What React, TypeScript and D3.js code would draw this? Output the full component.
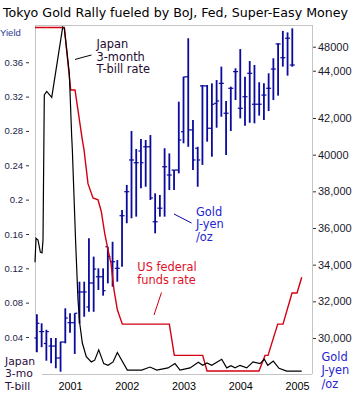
import React, { useRef, useEffect } from 'react';
import * as d3 from 'd3';

// monthly gold bars, yen per ounce (Jun 2000 - Dec 2004)
const goldMonths = [
  '2000-06', '2000-07', '2000-08', '2000-09', '2000-10', '2000-11', '2000-12',
  '2001-01', '2001-02', '2001-03', '2001-04', '2001-05', '2001-06', '2001-07', '2001-08', '2001-09', '2001-10', '2001-11', '2001-12',
  '2002-01', '2002-02', '2002-03', '2002-04', '2002-05', '2002-06', '2002-07', '2002-08', '2002-09', '2002-10', '2002-11', '2002-12',
  '2003-01', '2003-02', '2003-03', '2003-04', '2003-05', '2003-06', '2003-07', '2003-08', '2003-09', '2003-10', '2003-11', '2003-12',
  '2004-01', '2004-02', '2004-03', '2004-04', '2004-05', '2004-06', '2004-07', '2004-08', '2004-09', '2004-10', '2004-11', '2004-12',
];
const goldHigh = [
  31300, 30800, 30450, 30000, 30000, 29800, 31620,
  31350, 31350, 33070, 33070, 35440, 34440, 33800, 33800, 34980, 35250, 34250, 36980,
  38350, 41290, 40310, 40850, 40800, 41070, 37890, 37800, 40350, 40070, 39160, 42890,
  44250, 46350, 41890, 40430, 43800, 43800, 43890, 44070, 44800, 42930, 43710, 44710,
  45760, 44250, 45110, 44890, 43950, 43890, 44440, 45260, 46070, 46750, 46670, 46890,
];
const goldLow = [
  29220, 29500, 28760, 28620, 28350, 28160, 29710,
  30290, 29130, 30800, 31160, 31430, 31430, 32620, 32310, 32980, 32800, 33070, 33890,
  36260, 36530, 36620, 38170, 38250, 37530, 35710, 36620, 36620, 38070, 38070, 38980,
  40620, 40430, 39160, 38250, 39440, 40710, 39890, 41470, 42070, 39980, 41290, 42980,
  41980, 41580, 41740, 41710, 42130, 41890, 42380, 42980, 43220, 44800, 44310, 44800,
];
const goldOpen = [
  30000, 30350, 29700, 29560, 29560, 28910, 29780,
  30835, 30835, 32510, 32510, 31690, 33000, 33340, 33340, 34980, 34160, 33800, 36670,
  37980, 39710, 39560, 40200, 40430, 40430, 36340, 37080, 39340, 38890, 39160, 39160,
  41250, 44250, 41350, 40350, 43750, 43750, 41440, 42800, 43890, 42260, 43620, 44530,
  42530, 43160, 44440, 42750, 42750, 43250, 43620, 44670, 46040, 45290, 46350, 44890,
];
const goldClose = [
  30800, 30350, 30350, 29560, 28910, 29780, 31090,
  30835, 31350, 32510, 32510, 33000, 33760, 33340, 32580, 34440, 34160, 33800, 36670,
  37980, 39710, 39560, 39560, 40430, 37640, 36340, 37080, 39340, 38890, 39160, 40800,
  44240, 41350, 39710, 39710, 43750, 41440, 42750, 42930, 43890, 42260, 43620, 44530,
  42530, 43160, 44440, 42750, 42750, 43250, 43620, 44670, 46040, 45290, 46350, 44890,
];

// Japan 3-month T-bill yield (decimal year, yield)
const tbillDates = [
  2000.383, 2000.401, 2000.436, 2000.477, 2000.507, 2000.524, 2000.547, 2000.589, 2000.678, 2000.871, 2000.900,
  2000.988, 2001.030, 2001.041, 2001.100, 2001.141, 2001.171, 2001.217, 2001.287, 2001.375, 2001.435, 2001.506,
  2001.594, 2001.670, 2001.758, 2001.834, 2002.010, 2002.263, 2002.410, 2002.528, 2002.727, 2002.850, 2002.938,
  2003.115, 2003.261, 2003.338, 2003.414, 2003.497, 2003.673, 2003.761, 2003.837, 2003.908, 2003.996, 2004.114,
  2004.225, 2004.348, 2004.424, 2004.484, 2004.582, 2004.683, 2004.819, 2005.083,
];
const tbillRates = [
  0.127, 0.155, 0.153, 0.139, 0.138, 0.153, 0.322, 0.326, 0.319, 0.401, 0.3995,
  0.347, 0.273, 0.258, 0.149, 0.083, 0.056, 0.033, 0.017, 0.011, 0.013, 0.025,
  0.009, 0.007, 0.011, 0.022, 0.0015, 0.0015, 0.005, 0.0015, 0.004, 0.009, 0.0015,
  0.004, 0.0105, 0.007, 0.0097, 0.007, 0.014, 0.004, 0.0065, 0.004, 0.007, 0.004,
  0.011, 0.009, 0.014, 0.007, 0.012, 0.0035, 0.0003, 0.0003,
];

// US federal funds rate, percent
const fedDates = [
  2000.383, 2000.900, 2001.012, 2001.088, 2001.217, 2001.247, 2001.317, 2001.405, 2001.493, 2001.552,
  2001.612, 2001.670, 2001.723, 2001.775, 2001.834, 2001.922, 2002.750, 2002.838, 2003.338, 2003.414,
  2004.330, 2004.436, 2004.489, 2004.660, 2004.753, 2004.912, 2005.000, 2005.083,
];
const fedRates = [
  6.5, 6.5, 5.5, 5.5, 4.7, 4.54, 4.0, 3.77, 3.74, 3.55,
  3.2, 2.94, 2.72, 2.3, 1.98, 1.75, 1.75, 1.25, 1.25, 1.0,
  1.0, 1.25, 1.25, 1.75, 1.75, 2.25, 2.25, 2.5,
];

const yearTicks = [2001, 2002, 2003, 2004, 2005];
const yieldTicks = [0.04, 0.08, 0.12, 0.16, 0.2, 0.24, 0.28, 0.32, 0.36];
const yenTickValues = [30000, 32000, 34000, 36000, 38000, 40000, 42000, 44580, 45890];
const yenTickLabels = ['30,000', '32,000', '34,000', '36,000', '38,000', '40000', '42,000', '44,000', '48000'];

const ARIAL = 'Liberation Sans, Arial, sans-serif';
const SANS = 'DejaVu Sans, Verdana, sans-serif';
const GOLD = '#0a0a9c';
const FED = '#d20010';

const App = () => {
  const svgRef = useRef<SVGSVGElement>(null);

  useEffect(() => {
    const svg = d3.select(svgRef.current);
    svg.selectAll('*').remove();

    const left = 35, right = 312, top = 25, bottom = 374;

    const x = d3.scaleLinear().domain([2000.383, 2005.264]).range([left, right]);
    const yLeft = d3.scaleLinear().domain([-0.0031, 0.4034]).range([bottom, top]);
    const yGold = d3.scaleLinear().domain([28036, 47073]).range([bottom, top]);
    const yFed = d3.scaleLinear().domain([0.952, 6.54]).range([bottom, top]);

    svg.append('rect').attr('width', 358).attr('height', 398).attr('fill', '#fff');

    // title
    svg.append('text')
      .attr('x', 3).attr('y', 16.5)
      .attr('font-family', SANS).attr('font-size', 12.5)
      .attr('textLength', 345).attr('lengthAdjust', 'spacingAndGlyphs')
      .attr('fill', '#000')
      .text('Tokyo Gold Rally fueled by BoJ, Fed, Super-Easy Money');

    // frame
    const frame = svg.append('g').attr('stroke', '#c4c4c4').attr('stroke-width', 1).attr('fill', 'none');
    frame.append('line').attr('x1', left).attr('x2', right).attr('y1', top + 0.5).attr('y2', top + 0.5);
    frame.append('line').attr('x1', left + 0.5).attr('x2', left + 0.5).attr('y1', top).attr('y2', 352);
    frame.append('line').attr('x1', right + 0.5).attr('x2', right + 0.5).attr('y1', top).attr('y2', bottom);
    frame.append('line').attr('x1', 42).attr('x2', right).attr('y1', bottom + 0.5).attr('y2', bottom + 0.5);

    // left axis (yield)
    const gl = svg.append('g')
      .attr('transform', 'translate(29,0)')
      .call(d3.axisLeft(yLeft).tickValues(yieldTicks).tickSize(3).tickPadding(3).tickFormat(d => `${+d}`));
    gl.select('.domain').remove();
    gl.selectAll('line').attr('stroke', '#333');
    gl.selectAll('text').attr('font-family', ARIAL).attr('font-size', 9.5).attr('fill', '#1c1c4a');

    svg.append('text').attr('x', 0).attr('y', 35.5)
      .attr('font-family', ARIAL).attr('font-size', 9.5).attr('fill', '#2a3c9a')
      .text('Yield');

    // right axis (gold yen)
    const gr = svg.append('g')
      .attr('transform', `translate(${right + 1},0)`)
      .call(d3.axisRight(yGold).tickValues(yenTickValues).tickSize(3).tickPadding(2)
        .tickFormat((d, i) => yenTickLabels[i]));
    gr.select('.domain').remove();
    gr.selectAll('line').attr('stroke', '#333');
    gr.selectAll('text').attr('font-family', ARIAL).attr('font-size', 11).attr('fill', '#1a1a2a');

    // bottom axis (years)
    const gb = svg.append('g')
      .attr('transform', `translate(0,${bottom})`)
      .call(d3.axisBottom(x).tickValues(yearTicks).tickSize(0).tickPadding(8).tickFormat(d => `${d}`));
    gb.select('.domain').remove();
    gb.selectAll('text').attr('font-family', ARIAL).attr('font-size', 10.8).attr('fill', '#000');

    // gold OHLC bars
    const monthX = (s: string) => x(+s.slice(0, 4) + (+s.slice(5) - 1) / 12);
    const bars = svg.append('g').attr('stroke', GOLD).attr('stroke-width', 1.8);
    goldMonths.forEach((m, i) => {
      const cx = monthX(m);
      bars.append('line').attr('x1', cx).attr('x2', cx).attr('y1', yGold(goldHigh[i])).attr('y2', yGold(goldLow[i]));
      bars.append('line').attr('x1', cx - 2.5).attr('x2', cx).attr('y1', yGold(goldOpen[i])).attr('y2', yGold(goldOpen[i])).attr('stroke-width', 1.2);
      bars.append('line').attr('x1', cx).attr('x2', cx + 2.5).attr('y1', yGold(goldClose[i])).attr('y2', yGold(goldClose[i])).attr('stroke-width', 1.2);
    });

    // fed funds
    const fedLine = d3.line<number>().x((d, i) => x(fedDates[i])).y(d => yFed(d));
    svg.append('path').datum(fedRates)
      .attr('fill', 'none').attr('stroke', FED).attr('stroke-width', 1.4)
      .attr('d', fedLine);

    // Japan T-bill
    const tbLine = d3.line<number>().x((d, i) => x(tbillDates[i])).y(d => yLeft(d));
    svg.append('path').datum(tbillRates)
      .attr('fill', 'none').attr('stroke', '#000').attr('stroke-width', 1.2)
      .attr('d', tbLine);

    // annotations
    const note = (lines: string[], tx: number, ty: number, color: string, step: number, size = 11.4) => {
      const t = svg.append('text').attr('font-family', SANS).attr('font-size', size).attr('fill', color);
      lines.forEach((s, i) => t.append('tspan').attr('x', tx).attr('y', ty + i * step).text(s));
    };
    note(['Japan', '3-month', 'T-bill rate'], 96.5, 47.8, '#1e0a30', 12.8);
    svg.append('path').attr('d', 'M75,59.5 L82,57.5 L91.5,55').attr('fill', 'none').attr('stroke', '#000').attr('stroke-width', 1);

    note(['Gold', 'J-yen', '/oz'], 196, 215.7, '#2424d0', 12.5);
    svg.append('line').attr('x1', 174).attr('y1', 214).attr('x2', 191.5).attr('y2', 223)
      .attr('stroke', GOLD).attr('stroke-width', 1);

    note(['US federal', 'funds rate'], 137.3, 270.7, '#e0102a', 13.3);
    svg.append('line').attr('x1', 161.5).attr('y1', 292.5).attr('x2', 154).attr('y2', 315)
      .attr('stroke', FED).attr('stroke-width', 1);

    note(['Japan', '3-mo', 'T-bill'], 5, 365, '#2a0c3c', 12.3, 10.8);
    note(['Gold', 'J-yen', '/oz'], 321.5, 361, '#2424d0', 13.3);
  }, []);

  return (
    <svg ref={svgRef} width={358} height={398}
      style={{ position: 'absolute', left: 0, top: 0, display: 'block' }} />
  );
};

export default App;
